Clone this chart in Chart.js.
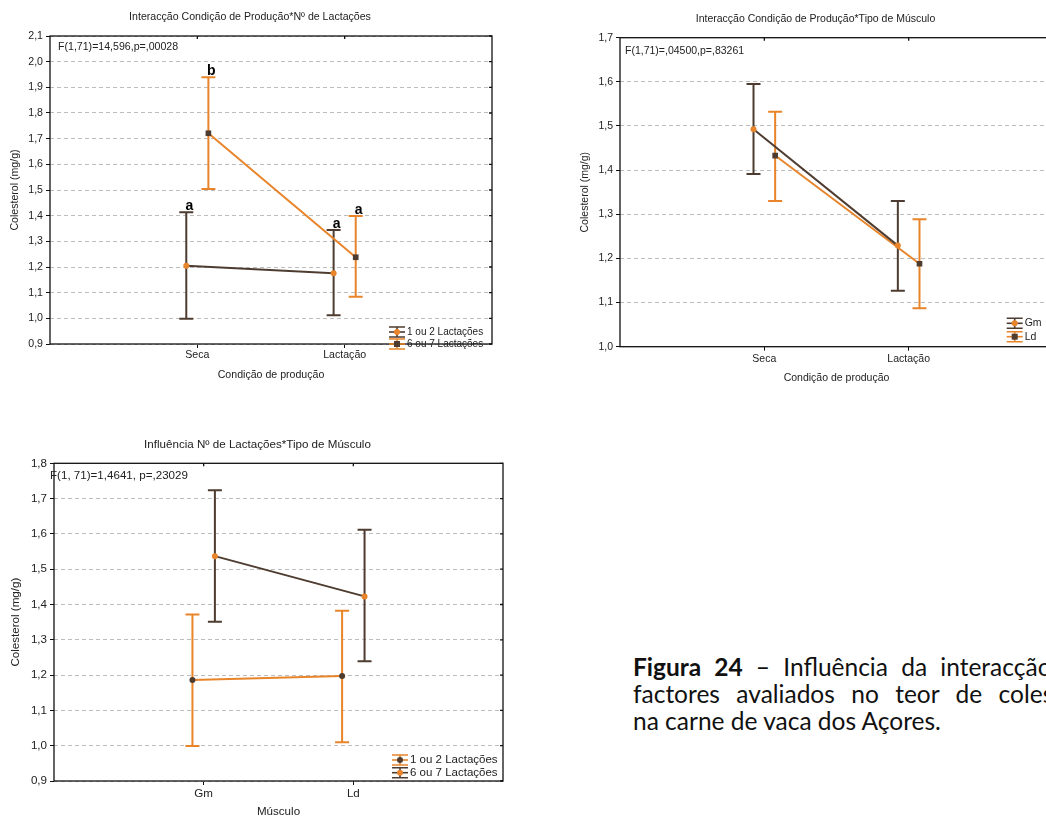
<!DOCTYPE html>
<html lang="pt">
<head>
<meta charset="utf-8">
<title>Colesterol - interacções</title>
<script src="https://cdn.jsdelivr.net/npm/chart.js@4.4.1/dist/chart.umd.min.js"></script>
<style>
  html, body { margin: 0; padding: 0; background: #fff; }
  body { width: 1046px; height: 816px; overflow: hidden; position: relative; }
  canvas { position: absolute; }
  #c1 { left: 0; top: 0; }
  #c2 { left: 520px; top: 0; }
  #c3 { left: 0; top: 400px; }
  .caption { position: absolute; left: 633px; top: 653px; font-family: Lato, sans-serif;
             font-size: 24.5px; line-height: 27px; color: #111; }
  .caption div { white-space: nowrap; }
  .caption .j { width: 470px; text-align: justify; text-align-last: justify; }
</style>
</head>
<body>
<canvas id="c1" width="520" height="390"></canvas>
<canvas id="c2" width="540" height="390"></canvas>
<canvas id="c3" width="520" height="416"></canvas>
<div class="caption">
  <div class="j"><b>Figura 24</b> – Influência da interacção dos</div>
  <div class="j">factores avaliados no teor de colesterol</div>
  <div>na carne de vaca dos Açores.</div>
</div>
<script>
const BROWN = '#4e3c30';
const ORANGE = '#e8842a';
const DODGE = 0.075; // desvio lateral das séries, em unidades de categoria

// Gráfico 1: Condição de Produção * Nº de Lactações
const prodCategories = ['Seca', 'Lactação'];
const lact12Mean = [1.205, 1.176];
const lact12Low = [0.998, 1.012];
const lact12High = [1.413, 1.344];
const lact12Letters = ['a', 'a'];
const lact67Mean = [1.721, 1.238];
const lact67Low = [1.504, 1.084];
const lact67High = [1.939, 1.399];
const lact67Letters = ['b', 'a'];

// Gráfico 2: Condição de Produção * Tipo de Músculo
const gmMean = [1.4925, 1.229];
const gmLow = [1.391, 1.127];
const gmHigh = [1.595, 1.330];
const ldMean = [1.433, 1.188];
const ldLow = [1.330, 1.087];
const ldHigh = [1.532, 1.289];

// Gráfico 3: Nº de Lactações * Tipo de Músculo
const muscleCategories = ['Gm', 'Ld'];
const m12Mean = [1.186, 1.1975];
const m12Low = [0.999, 1.010];
const m12High = [1.372, 1.382];
const m67Mean = [1.537, 1.423];
const m67Low = [1.351, 1.239];
const m67High = [1.724, 1.612];

const FONT = 'Liberation Sans, Arial, sans-serif';
const fmt = v => Number(v).toFixed(1).replace('.', ',');

// barras de erro, moldura, textos e legenda
const decor = {
  id: 'decor',
  beforeDatasetsDraw(chart, args, o) {
    const { ctx } = chart;
    const x = chart.scales.x, y = chart.scales.y;
    o.series.forEach(s => {
      ctx.save();
      ctx.strokeStyle = s.cap;
      ctx.lineWidth = 2;
      s.mean.forEach((m, i) => {
        const px = x.getPixelForValue(i + 1 + s.side * DODGE);
        const lo = y.getPixelForValue(s.low[i]);
        const hi = y.getPixelForValue(s.high[i]);
        ctx.beginPath();
        ctx.moveTo(px, lo); ctx.lineTo(px, hi);
        ctx.moveTo(px - 7, lo); ctx.lineTo(px + 7, lo);
        ctx.moveTo(px - 7, hi); ctx.lineTo(px + 7, hi);
        ctx.stroke();
      });
      ctx.restore();
    });
  },
  afterDraw(chart, args, o) {
    const { ctx, chartArea: a } = chart;
    const x = chart.scales.x, y = chart.scales.y;
    ctx.save();
    // moldura
    ctx.strokeStyle = '#111';
    ctx.lineWidth = 1.3;
    ctx.strokeRect(a.left, a.top, a.right - a.left, a.bottom - a.top);
    ctx.beginPath();
    x.ticks.forEach(t => {
      const px = x.getPixelForValue(t.value);
      ctx.moveTo(px, a.top); ctx.lineTo(px, a.top + 3);
    });
    y.ticks.forEach(t => {
      const py = y.getPixelForValue(t.value);
      ctx.moveTo(a.right, py); ctx.lineTo(a.right - 3, py);
    });
    ctx.stroke();

    const fs = o.fontSize;
    const cx = (a.left + a.right) / 2;
    ctx.fillStyle = '#222';
    ctx.font = fs + 'px ' + FONT;
    ctx.textAlign = 'center';
    ctx.textBaseline = 'middle';
    ctx.fillText(o.title, cx - 21, a.top - 19);
    ctx.fillText(o.xTitle, cx, a.bottom + 31);
    ctx.save();
    ctx.translate(a.left - o.yTitleGap, (a.top + a.bottom) / 2);
    ctx.rotate(-Math.PI / 2);
    ctx.fillText(o.yTitle, 0, 0);
    ctx.restore();

    ctx.textAlign = 'left';
    ctx.fillText(o.note, a.left + o.noteAt[0], a.top + o.noteAt[1]);

    // letras de significância
    ctx.font = 'bold 14px ' + FONT;
    ctx.fillStyle = '#000';
    ctx.textAlign = 'center';
    ctx.textBaseline = 'alphabetic';
    o.series.forEach(s => {
      if (!s.letters) return;
      s.letters.forEach((l, i) => {
        const px = x.getPixelForValue(i + 1 + s.side * DODGE);
        ctx.fillText(l, px + 3, y.getPixelForValue(s.high[i]) - 2);
      });
    });

    // legenda
    const [lx, ly, step] = o.legendAt;
    ctx.font = o.legendSize + 'px ' + FONT;
    ctx.textBaseline = 'middle';
    ctx.textAlign = 'left';
    o.series.forEach((s, k) => {
      const cy = ly + k * step;
      ctx.strokeStyle = s.cap;
      ctx.lineWidth = 1.6;
      ctx.beginPath();
      ctx.moveTo(lx - 8, cy - 5); ctx.lineTo(lx + 8, cy - 5);
      ctx.moveTo(lx - 8, cy + 5); ctx.lineTo(lx + 8, cy + 5);
      ctx.moveTo(lx, cy - 5); ctx.lineTo(lx, cy + 5);
      ctx.stroke();
      ctx.strokeStyle = s.line;
      ctx.beginPath();
      ctx.moveTo(lx - 8, cy); ctx.lineTo(lx + 8, cy);
      ctx.stroke();
      ctx.fillStyle = s.marker;
      if (s.pointStyle === 'rect') ctx.fillRect(lx - 3, cy - 3, 6, 6);
      else { ctx.beginPath(); ctx.arc(lx, cy, 3, 0, Math.PI * 2); ctx.fill(); }
      ctx.fillStyle = '#222';
      ctx.fillText(s.name, lx + 10, cy);
    });
    ctx.restore();
  }
};

function makePanel(id, p) {
  const canvas = document.getElementById(id);
  const W = canvas.width, H = canvas.height;
  const tickFont = { family: FONT, size: p.fontSize };
  return new Chart(canvas, {
    type: 'line',
    data: {
      datasets: p.series.map(s => ({
        label: s.name,
        data: s.mean.map((v, i) => ({ x: i + 1 + s.side * DODGE, y: v })),
        borderColor: s.line,
        borderWidth: 2,
        pointStyle: s.pointStyle,
        pointRadius: s.pointStyle === 'rect' ? 4 : 3,
        pointBackgroundColor: s.marker,
        pointBorderWidth: 0,
        tension: 0
      }))
    },
    options: {
      responsive: false,
      animation: false,
      devicePixelRatio: 1,
      layout: { padding: { top: p.area.t, right: W - p.area.r, bottom: 0, left: 0 } },
      plugins: {
        legend: { display: false },
        tooltip: { enabled: false },
        decor: {
          series: p.series, title: p.title, note: p.note, noteAt: p.noteAt,
          xTitle: p.xTitle, yTitle: 'Colesterol (mg/g)', yTitleGap: p.yTitleGap,
          fontSize: p.fontSize, legendSize: p.legendSize, legendAt: p.legendAt
        }
      },
      scales: {
        x: {
          type: 'linear',
          min: 0,
          max: p.categories.length + 1,
          afterBuildTicks: s => { s.ticks = p.categories.map((c, i) => ({ value: i + 1 })); },
          afterFit: s => { s.height = H - p.area.b; },
          ticks: { callback: v => p.categories[v - 1] || '', font: tickFont, color: '#222', padding: p.xPad, maxRotation: 0, autoSkip: false },
          grid: { drawOnChartArea: false, tickLength: 4, tickColor: '#111' },
          border: { display: false }
        },
        y: {
          min: p.yMin,
          max: p.yMax,
          afterFit: s => { s.width = p.area.l; },
          ticks: { stepSize: 0.1, callback: fmt, font: tickFont, color: '#222', padding: 3 },
          grid: { color: '#bdbdbd', lineWidth: 1, tickLength: 4, tickColor: '#111' },
          border: { display: false, dash: [4, 3] }
        }
      }
    },
    plugins: [decor]
  });
}

makePanel('c1', {
  categories: prodCategories,
  yMin: 0.9, yMax: 2.1,
  area: { l: 50, t: 36, r: 492, b: 344 },
  fontSize: 10.6, legendSize: 10, xPad: 1, yTitleGap: 35,
  title: 'Interacção Condição de Produção*Nº de Lactações',
  note: 'F(1,71)=14,596,p=,00028', noteAt: [8, 11],
  xTitle: 'Condição de produção',
  legendAt: [397, 332, 12],
  series: [
    { name: '1 ou 2 Lactações', mean: lact12Mean, low: lact12Low, high: lact12High, letters: lact12Letters,
      side: -1, line: BROWN, cap: BROWN, marker: ORANGE, pointStyle: 'circle' },
    { name: '6 ou 7 Lactações', mean: lact67Mean, low: lact67Low, high: lact67High, letters: lact67Letters,
      side: 1, line: ORANGE, cap: ORANGE, marker: BROWN, pointStyle: 'rect' }
  ]
});

makePanel('c2', {
  categories: prodCategories,
  yMin: 1.0, yMax: 1.7,
  area: { l: 100, t: 37.7, r: 533, b: 346.7 },
  fontSize: 10.5, legendSize: 10.5, xPad: 2, yTitleGap: 35,
  title: 'Interacção Condição de Produção*Tipo de Músculo',
  note: 'F(1,71)=,04500,p=,83261', noteAt: [5, 13],
  xTitle: 'Condição de produção',
  legendAt: [494.7, 323.3, 13.4],
  series: [
    { name: 'Gm', mean: gmMean, low: gmLow, high: gmHigh,
      side: -1, line: BROWN, cap: BROWN, marker: ORANGE, pointStyle: 'circle' },
    { name: 'Ld', mean: ldMean, low: ldLow, high: ldHigh,
      side: 1, line: ORANGE, cap: ORANGE, marker: BROWN, pointStyle: 'rect' }
  ]
});

makePanel('c3', {
  categories: muscleCategories,
  yMin: 0.9, yMax: 1.8,
  area: { l: 54, t: 63.3, r: 503, b: 381 },
  fontSize: 11.6, legendSize: 11.5, xPad: 2, yTitleGap: 38,
  title: 'Influência Nº de Lactações*Tipo de Músculo',
  note: 'F(1, 71)=1,4641, p=,23029', noteAt: [-4, 12],
  xTitle: 'Músculo',
  legendAt: [400, 360, 12.7],
  series: [
    { name: '1 ou 2 Lactações', mean: m12Mean, low: m12Low, high: m12High,
      side: -1, line: ORANGE, cap: ORANGE, marker: BROWN, pointStyle: 'circle' },
    { name: '6 ou 7 Lactações', mean: m67Mean, low: m67Low, high: m67High,
      side: 1, line: BROWN, cap: BROWN, marker: ORANGE, pointStyle: 'circle' }
  ]
});
</script>
</body>
</html>
